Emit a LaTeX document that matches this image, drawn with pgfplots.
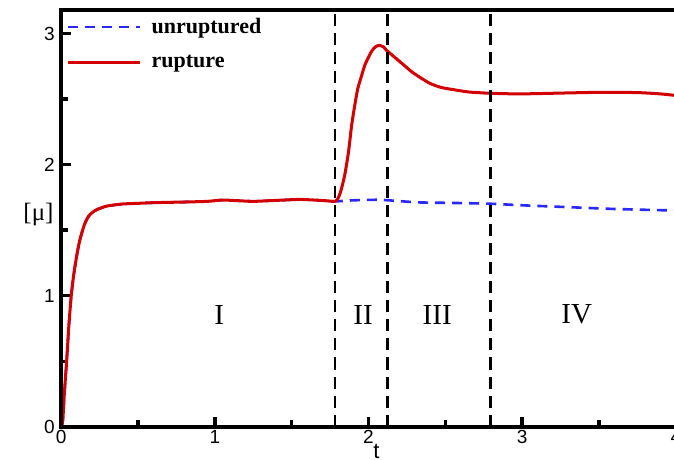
\documentclass[border=0pt]{standalone}
\usepackage{fontspec}
\setmainfont{Liberation Serif}
\newfontfamily\arialf{Liberation Sans}
\usepackage{pgfplots}
\pgfplotsset{compat=1.18}

\definecolor{rupred}{RGB}{210,0,0}
\definecolor{unblue}{RGB}{40,40,255}

\begin{document}
\begin{tikzpicture}
\begin{axis}[
    name=ax,
    scale only axis,
    width=612bp, height=415bp,
    xmin=0, xmax=4, ymin=0, ymax=3.18,
    xtick={0,1,2,3,4}, ytick={0,1,2,3},
    minor x tick num=1, minor y tick num=1,
    xtick pos=left, ytick pos=left,
    tick align=inside,
    major tick length=10bp, minor tick length=7bp,
    tick style={black, line width=3.4bp},
    major tick style={black, line width=3.4bp},
    minor tick style={black, line width=3.4bp},
    axis line style={line width=3.5bp},
    /pgf/number format/assume math mode=true,
    ticklabel style={font=\arialf\fontsize{19}{21}\selectfont},
    xticklabel style={yshift=0bp},
    yticklabel style={xshift=-3bp},
    xlabel={\arialf\fontsize{22}{22}\selectfont t},
    xlabel style={at={(axis description cs:0.513,-0.06)}, anchor=center},
    ylabel={\fontsize{25}{27}\selectfont [μ]},
    ylabel style={rotate=-90, at={(axis description cs:-0.037,0.51)}, anchor=center},
    legend style={at={(axis description cs:0.003,0.985)}, anchor=north west,
        draw=none, fill=none, row sep=20bp, column sep=10bp,
        font=\fontsize{22}{24}\selectfont\bfseries,
        nodes={inner sep=0pt, anchor=west}},
    legend cell align=left,
    legend image code/.code={\draw[#1] (0bp,0bp) -- (72bp,0bp);},
]

% unruptured
\addplot[unblue, line width=2.6bp, dash pattern=on 10bp off 7bp, smooth, tension=0.4] coordinates {
    (0,0) (0.01,0.05) (0.02,0.25) (0.035,0.5) (0.05,0.78) (0.065,1.0) (0.08,1.15)
    (0.1,1.3) (0.12,1.42) (0.15,1.54) (0.18,1.61) (0.22,1.65) (0.26,1.67) (0.3,1.685)
    (0.4,1.70) (0.5,1.705) (0.6,1.71) (0.8,1.715) (0.95,1.72) (1.05,1.73) (1.15,1.725)
    (1.25,1.72) (1.35,1.725) (1.45,1.73) (1.55,1.735) (1.65,1.73) (1.72,1.725) (1.78,1.72)
    (1.9,1.728) (2.07,1.732) (2.2,1.722) (2.33,1.712) (2.55,1.708) (2.79,1.702)
    (3.0,1.69) (3.3,1.676) (3.6,1.662) (3.93,1.652) (4.0,1.652)
};
\addlegendentry{unruptured}

% rupture
\addplot[rupred, line width=3bp, smooth, tension=0.4] coordinates {
    (0,0) (0.01,0.05) (0.02,0.25) (0.035,0.5) (0.05,0.78) (0.065,1.0) (0.08,1.15)
    (0.1,1.3) (0.12,1.42) (0.15,1.54) (0.18,1.61) (0.22,1.65) (0.26,1.67) (0.3,1.685)
    (0.4,1.70) (0.5,1.705) (0.6,1.71) (0.8,1.715) (0.95,1.72) (1.05,1.73) (1.15,1.725)
    (1.25,1.72) (1.35,1.725) (1.45,1.73) (1.55,1.735) (1.65,1.73) (1.72,1.725) (1.78,1.72)
    (1.80,1.74) (1.82,1.8) (1.845,1.92) (1.87,2.1) (1.89,2.30) (1.91,2.45) (1.93,2.58)
    (1.955,2.68) (1.976,2.76) (2.0,2.82) (2.02,2.865) (2.045,2.90) (2.07,2.91)
    (2.095,2.90) (2.12,2.87) (2.17,2.82) (2.22,2.77) (2.28,2.71) (2.33,2.67) (2.4,2.62)
    (2.47,2.59) (2.54,2.575) (2.65,2.555) (2.79,2.545) (2.98,2.54) (3.2,2.545)
    (3.5,2.552) (3.75,2.55) (3.9,2.54) (4.0,2.528)
};
\addlegendentry{rupture}

% phase boundaries
\addplot[black, line width=2.8bp, dash pattern=on 12bp off 7bp, forget plot] coordinates {(1.782,0) (1.782,3.18)};
\addplot[black, line width=2.8bp, dash pattern=on 12bp off 7bp, forget plot] coordinates {(2.122,0) (2.122,3.18)};
\addplot[black, line width=2.8bp, dash pattern=on 12bp off 7bp, forget plot] coordinates {(2.793,0) (2.793,3.18)};

\node[font=\fontsize{29}{31}\selectfont] at (axis cs:1.028,0.856) {I};
\node[font=\fontsize{29}{31}\selectfont] at (axis cs:1.965,0.856) {II};
\node[font=\fontsize{29}{31}\selectfont] at (axis cs:2.447,0.856) {III};
\node[font=\fontsize{29}{31}\selectfont] at (axis cs:3.355,0.856) {IV};

% heavy frame
\draw[black, line width=3.5bp] (rel axis cs:0,0) rectangle (rel axis cs:1,1);
\end{axis}
\pgfresetboundingbox
\path ([shift={(-61bp,-33bp)}]ax.south west) rectangle ([shift={(-1.8bp,10bp)}]ax.north east);
\end{tikzpicture}
\end{document}
